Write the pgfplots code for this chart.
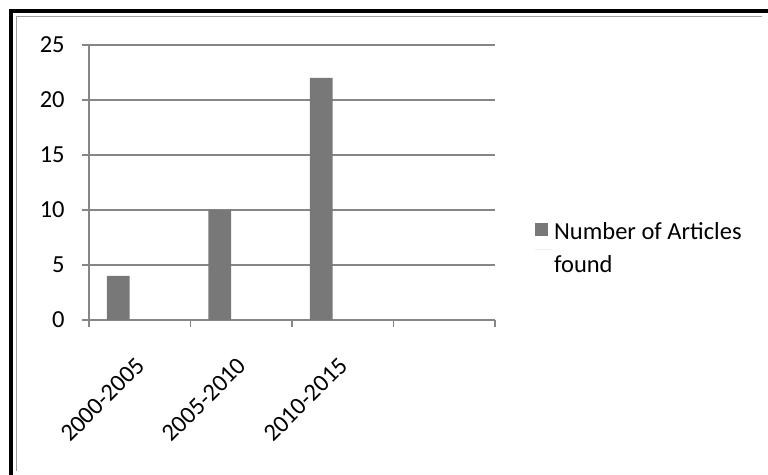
\documentclass[border=0pt]{standalone}
\usepackage{fontspec}
\setmainfont{Carlito}
\usepackage{pgfplots}
\pgfplotsset{compat=1.18}
\definecolor{gridgray}{RGB}{134,134,134}
\definecolor{bargray}{RGB}{120,120,120}
\begin{document}
\fontsize{24.5bp}{32.7bp}\selectfont
\begin{tikzpicture}[x=1bp,y=1bp]
\useasboundingbox (0,0) rectangle (768,475);
\fill[white] (0,0) rectangle (768,475);
\draw[black, line width=3.5bp] (11,0) -- (11,464.2) -- (768,464.2);
\draw[gridgray!80, line width=1.2bp] (16.3,4) -- (16.3,458.7) -- (762,458.7);
\begin{axis}[
  at={(89bp,155bp)}, anchor=south west,
  scale only axis, width=406bp, height=275bp,
  xmin=-0.5, xmax=3.5, ymin=0, ymax=25,
  axis x line*=bottom, axis y line*=left,
  axis line style={gridgray, line width=1.2bp, -},
  xtick={-0.5,0.5,1.5,2.5,3.5}, xticklabels={},
  extra x ticks={0,1,2},
  extra x tick labels={2000-2005,2005-2010,2010-2015},
  extra x tick style={major tick length=0pt,
     xticklabel style={rotate=45, anchor=north east, inner sep=2bp,
       xshift=-26.9bp, yshift=-19.8bp}},
  ytick={0,5,...,25},
  ymajorgrids, grid style={gridgray, line width=1.2bp},
  major tick length=7bp, tick align=outside,
  tick style={gridgray, line width=1.2bp},
  /pgf/number format/assume math mode=true,
  ticklabel style={font=\fontsize{24.5bp}{30bp}\selectfont},
  yticklabel style={xshift=-9bp},
  legend style={at={(axis description cs:1.091,0.258)}, anchor=west,
     draw=none, fill=none, font=\fontsize{24.5bp}{32.7bp}\selectfont,
     cells={anchor=west, align=left}},
  legend image code/.code={\path (0bp,0bp) -- (17bp,0bp);
     \fill[#1] (0bp,13.5bp) rectangle (13bp,26.5bp);},
]
\addplot[ybar, bar width=0.222, bar shift=0pt, fill=bargray, draw=none]
  coordinates {(-0.212,4) (0.788,10) (1.788,22)};
\addlegendentry{Number of Articles\\found}
\end{axis}
\end{tikzpicture}
\end{document}
